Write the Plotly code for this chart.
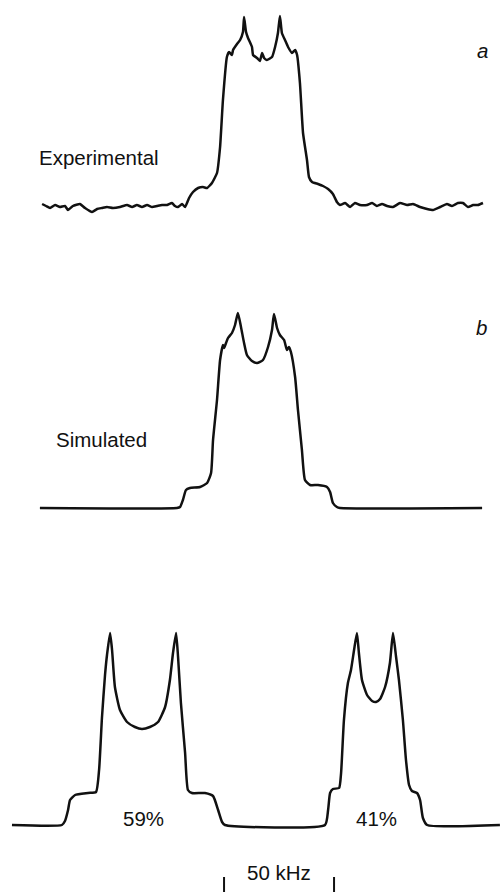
import plotly.graph_objects as go

# ---- Data (frequency in kHz, intensity in arbitrary units) ----
# (a) Experimental spectrum
exp_khz = [-94.5, -92.7, -90.9, -88.6, -86.4, -84.1, -82.7, -80.5, -77.3, -75.0,
           -71.8, -69.5, -67.3, -65.0, -62.3, -59.1, -55.9, -53.6, -51.4, -49.1,
           -46.8, -44.5, -42.3, -40.0, -37.7, -35.5, -34.1, -32.7, -30.9, -29.5,
           -27.7, -25.9, -23.6, -21.4, -19.5, -17.3, -15.0, -13.6, -12.3, -10.5,
           -9.5, -8.2, -7.7, -5.9, -4.5, -3.2, -2.7, -1.8, -0.9, 0.9,
           1.4, 3.2, 4.5, 5.5, 6.4, 7.7, 10.0, 11.4, 12.7, 13.6,
           14.5, 15.9, 17.3, 19.1, 20.5, 21.4, 22.7, 24.1, 25.9, 26.8,
           28.2, 30.9, 33.2, 35.5, 37.7, 39.5, 40.9, 43.2, 45.5, 47.7,
           50.0, 53.2, 55.5, 57.7, 60.0, 62.3, 65.0, 68.2, 71.4, 74.1,
           77.3, 80.5, 83.2, 86.4, 89.5, 91.8, 94.5, 96.8, 99.1, 101.4,
           103.6, 105.9]
exp_int = [2, 0, -2, 1, -1, 0, -4, 0, 2, -2,
           -6, -3, -2, -1, -2, -1, 1, -1, 1, -1,
           1, -1, 0, 1, 1, 3, 0, -1, 2, -1,
           8, 14, 18, 19, 18, 23, 33, 59, 106, 149,
           154, 151, 156, 162, 166, 174, 189, 174, 168, 159,
           151, 148, 145, 153, 148, 146, 149, 159, 173, 190,
           173, 166, 159, 153, 156, 151, 123, 73, 46, 29,
           24, 22, 20, 17, 12, 4, 1, 3, -1, 3,
           1, 1, 3, 0, 2, 0, -1, 3, 1, 2,
           -1, -3, -4, -1, 2, 0, 3, 3, -1, 1,
           1, 3]

# (b) Simulated spectrum
sim_khz = [-95.5, -33.2, -31.8, -30.5, -29.1, -27.3, -22.7, -19.5, -17.7, -16.8,
           -15.0, -13.6, -12.3, -11.8, -10.9, -10.0, -8.2, -6.8, -5.5, -4.1,
           -2.7, -1.4, 0.9, 3.2, 5.9, 8.2, 10.0, 10.9, 12.3, 13.6,
           15.5, 16.8, 17.7, 18.6, 20.5, 21.8, 23.6, 25.0, 27.3, 30.9,
           35.0, 36.4, 37.7, 39.5, 40.9, 105.5]
sim_int = [0, 0, 1, 8, 18, 20, 21, 25, 35, 68,
           108, 148, 163, 160, 165, 170, 175, 183, 195, 181,
           165, 153, 147, 145, 148, 161, 178, 194, 180, 173,
           168, 158, 161, 156, 131, 98, 58, 28, 23, 23,
           21, 16, 5, 1, 0, 0]

# (c) Two-component decomposition (59% and 41%)
comp_khz = [-108.2, -85.5, -84.1, -82.7, -81.8, -79.5, -73.6, -70.0, -68.6, -67.3,
            -65.9, -65.0, -63.6, -62.7, -61.4, -59.1, -55.9, -52.3, -49.1, -45.5,
            -41.8, -38.6, -36.4, -35.0, -33.6, -32.7, -31.4, -29.5, -28.2, -26.4,
            -20.5, -16.8, -14.5, -12.7, -11.4, 34.1, 35.5, 36.4, 37.7, 40.5,
            41.4, 42.7, 44.5, 45.9, 47.3, 48.6, 49.5, 50.9, 53.2, 55.5,
            57.3, 59.1, 61.4, 63.6, 65.0, 66.4, 67.7, 69.5, 70.9, 72.3,
            73.6, 75.9, 77.3, 78.6, 80.5, 113.6]
comp_int = [0, 0, 4, 15, 25, 30, 32, 33, 55, 107,
            150, 170, 192, 175, 138, 115, 103, 98, 96, 98,
            103, 118, 145, 172, 192, 168, 122, 72, 35, 32,
            32, 29, 15, 3, 0, 0, 15, 32, 36, 37,
            52, 105, 142, 155, 175, 192, 172, 145, 130, 124,
            123, 126, 138, 162, 192, 168, 145, 105, 65, 40,
            34, 32, 25, 7, 0, 0]

panel_labels = ["Experimental", "Simulated"]
panel_letters = ["a", "b"]
fractions = ["59%", "41%"]
fraction_khz = [-48.2, 57.3]
scale_khz = 50
scale_start_khz = -11.8

# ---- Layout helpers (pixel geometry of the 500x892 page) ----
W, H = 500, 892
def pf(px):
    return 1 - px / H

line = dict(color="#111111", width=2.5)
fig = go.Figure()
fig.add_trace(go.Scatter(x=exp_khz, y=exp_int, mode="lines", line=dict(line, shape="spline", smoothing=0.4),
                         xaxis="x", yaxis="y", hoverinfo="skip"))
fig.add_trace(go.Scatter(x=sim_khz, y=sim_int, mode="lines", line=dict(line, shape="spline", smoothing=0.5),
                         xaxis="x", yaxis="y2", hoverinfo="skip"))
fig.add_trace(go.Scatter(x=comp_khz, y=comp_int, mode="lines", line=dict(line, shape="spline", smoothing=0.5),
                         xaxis="x", yaxis="y3", hoverinfo="skip"))

font = dict(family="Liberation Sans, Arial, sans-serif", size=20.5, color="#111111")
ann = []
ann.append(dict(text=panel_labels[0], x=37 / W, y=pf(157), xref="paper", yref="paper",
                xanchor="left", yanchor="middle", showarrow=False, font=font))
ann.append(dict(text=panel_labels[1], x=54 / W, y=pf(439), xref="paper", yref="paper",
                xanchor="left", yanchor="middle", showarrow=False, font=font))
ann.append(dict(text="<i>" + panel_letters[0] + "</i>", x=482 / W, y=pf(50), xref="paper", yref="paper",
                xanchor="center", yanchor="middle", showarrow=False, font=font))
ann.append(dict(text="<i>" + panel_letters[1] + "</i>", x=481 / W, y=pf(328), xref="paper", yref="paper",
                xanchor="center", yanchor="middle", showarrow=False, font=font))
for t, xk in zip(fractions, fraction_khz):
    ann.append(dict(text=t, x=xk, y=pf(818), xref="x", yref="paper",
                    xanchor="center", yanchor="middle", showarrow=False, font=font))
ann.append(dict(text=f"{scale_khz} kHz", x=scale_start_khz + scale_khz / 2, y=pf(872), xref="x", yref="paper",
                xanchor="center", yanchor="middle", showarrow=False, font=font))

shapes = []
for xs in (scale_start_khz, scale_start_khz + scale_khz):
    shapes.append(dict(type="line", xref="x", yref="paper", x0=xs, x1=xs, y0=pf(892), y1=pf(877),
                       line=dict(color="#111111", width=2)))

half = (W / 2) / 2.2
fig.update_layout(
    width=W, height=H, margin=dict(l=0, r=0, t=0, b=0),
    paper_bgcolor="white", plot_bgcolor="white", showlegend=False,
    xaxis=dict(range=[-half, half], visible=False, domain=[0, 1]),
    yaxis=dict(range=[-24, 206], domain=[pf(230), pf(0)], visible=False, anchor="x"),
    yaxis2=dict(range=[-22, 218], domain=[pf(530), pf(290)], visible=False, anchor="x"),
    yaxis3=dict(range=[-25, 225], domain=[pf(850), pf(600)], visible=False, anchor="x"),
    annotations=ann, shapes=shapes,
)
fig.write_html("out.html", config={"displayModeBar": False},
               post_script="document.body.style.margin='0';document.body.style.overflow='hidden';")
